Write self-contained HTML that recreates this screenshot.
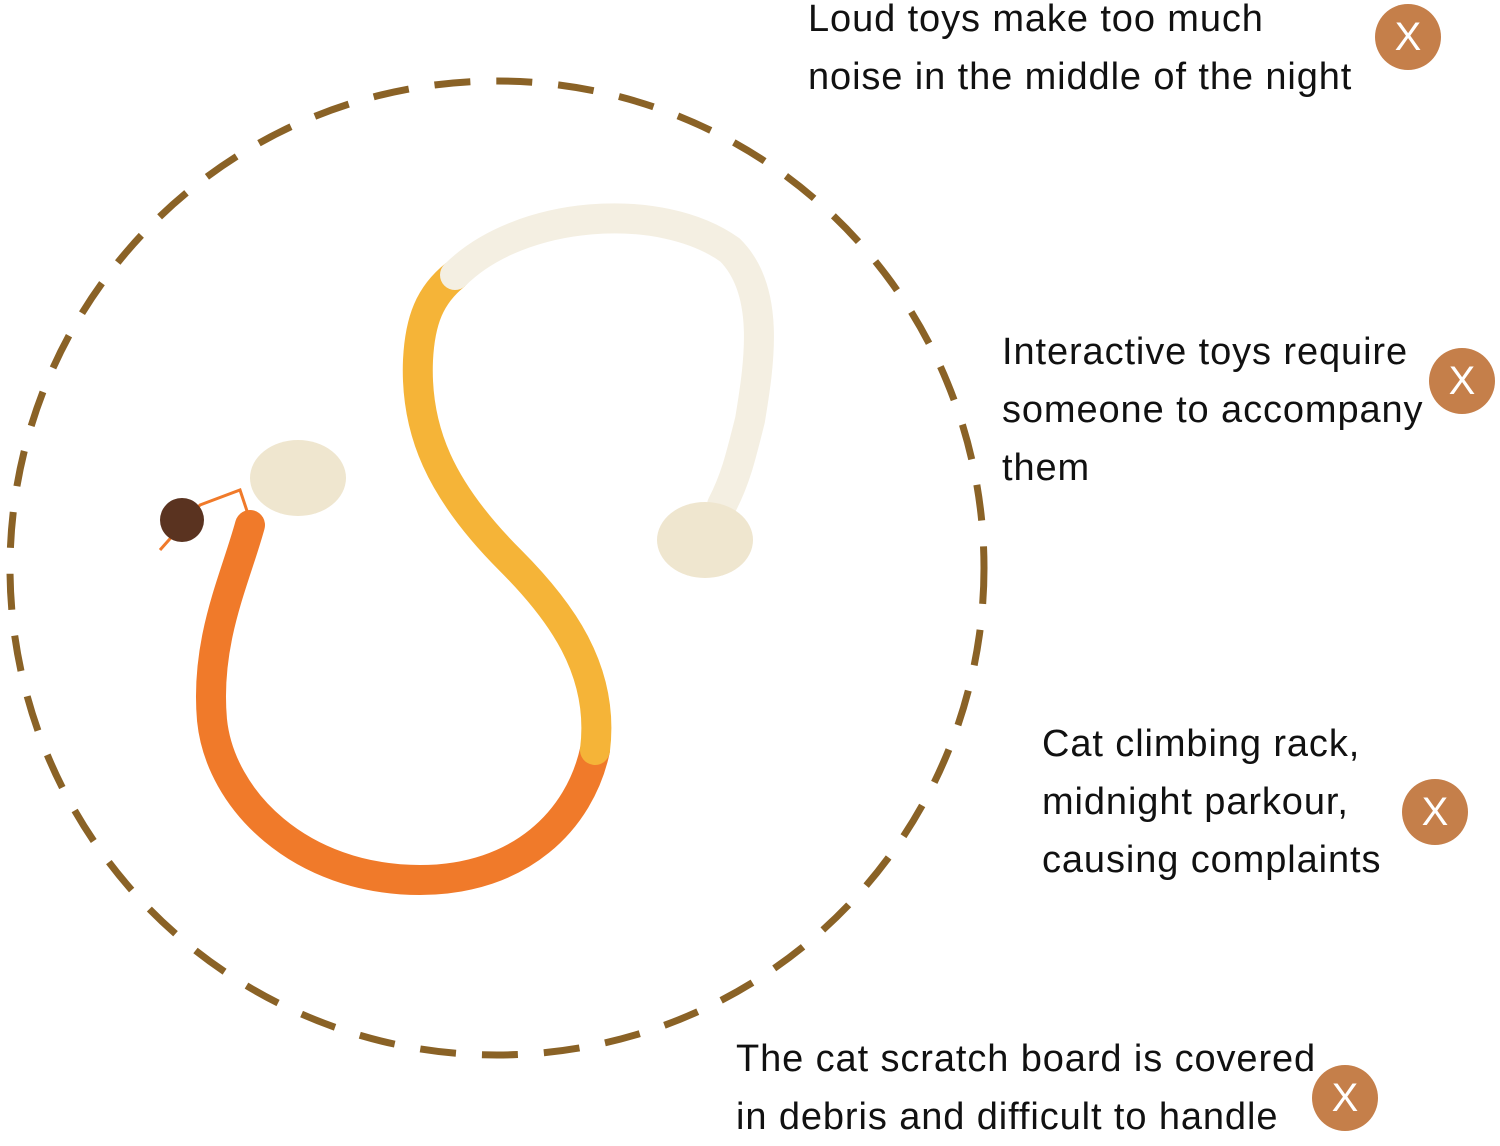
<!DOCTYPE html>
<html><head><meta charset="utf-8"><style>
html,body{margin:0;padding:0;background:#fff;}
body{width:1500px;height:1137px;position:relative;overflow:hidden;font-family:"Liberation Sans","DejaVu Sans",sans-serif;}
.t{position:absolute;font-size:38px;letter-spacing:0.9px;line-height:58px;color:#111;white-space:nowrap;}
.x{position:absolute;width:66px;height:66px;border-radius:50%;background:#c57f4a;color:#fff;font-size:40px;line-height:66px;text-align:center;}
</style></head><body>
<svg width="1500" height="1137" style="position:absolute;left:0;top:0">
<circle cx="497" cy="568" r="487" fill="none" stroke="#8a6226" stroke-width="7" stroke-dasharray="36 26"/>
<g fill="none" stroke-linecap="round" stroke-width="30">
<path d="M250 525 C235 580 205 640 212 720 C220 800 300 880 420 880 C520 880 580 820 595 750" stroke="#f07a2a"/>
<path d="M595 750 C605 670 560 610 510 560 C440 490 415 430 418 360 C420 320 430 295 455 275" stroke="#f5b438"/>
<path d="M455 275 C520 210 660 200 730 250 C770 290 760 360 750 420 C740 460 735 480 722 505" stroke="#f4efe2"/>
</g>
<path d="M250 520 L240 490 L200 505 L160 550" stroke="#f07a2a" stroke-width="3" fill="none"/>
<circle cx="182" cy="520" r="22" fill="#5a3320"/>
<ellipse cx="298" cy="478" rx="48" ry="38" fill="#efe6cf"/>
<ellipse cx="705" cy="540" rx="48" ry="38" fill="#efe6cf"/>
</svg>
<div class="t" style="left:808px;top:-10px">Loud toys make too much<br>noise in the middle of the night</div>
<div class="t" style="left:1002px;top:323px">Interactive toys require<br>someone to accompany<br>them</div>
<div class="t" style="left:1042px;top:715px">Cat climbing rack,<br>midnight parkour,<br>causing complaints</div>
<div class="t" style="left:736px;top:1030px">The cat scratch board is covered<br>in debris and difficult to handle</div>
<div class="x" style="left:1375px;top:4px">X</div>
<div class="x" style="left:1429px;top:348px">X</div>
<div class="x" style="left:1402px;top:779px">X</div>
<div class="x" style="left:1312px;top:1065px">X</div>
</body></html>
